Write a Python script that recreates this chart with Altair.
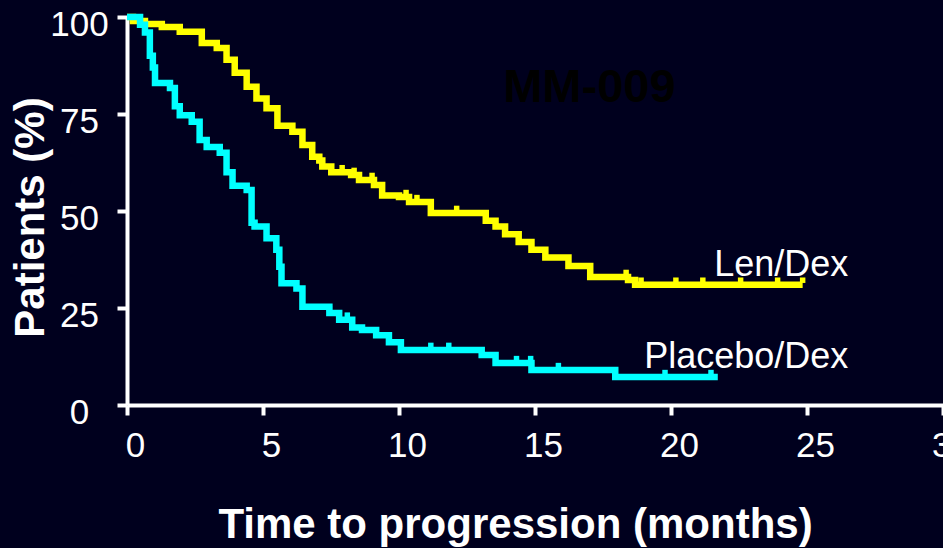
import altair as alt
import pandas as pd

# Kaplan-Meier step data (time in months, % patients progression-free)
len_t = [0, 0.22, 0.66, 1.28, 1.94, 2.75, 3.3, 3.66, 3.96, 4.4, 4.76, 5.13, 5.53, 6.08, 6.45, 6.81,
         7.07, 7.18, 7.51, 8.24, 8.53, 9.08, 9.38, 10.0, 10.37, 11.17, 13.19, 13.55, 13.9, 14.4,
         14.87, 15.38, 16.23, 17.03, 18.42, 18.68, 24.84]
len_s = [100, 99, 98.2, 97.4, 96.2, 93.3, 92, 89, 85.6, 82, 79, 76.5, 72, 70.4, 67, 64,
         63, 61.5, 60, 59.3, 58, 56.7, 54, 53.6, 52.3, 49.5, 47.5, 46, 44, 42,
         40, 38, 35.8, 33, 32.2, 31, 31]

pla_t = [0, 0.48, 0.66, 0.84, 0.95, 1.03, 1.58, 1.76, 1.94, 2.38, 2.67, 2.93, 3.41, 3.66, 3.88,
         4.4, 4.58, 4.69, 5.13, 5.49, 5.6, 5.68, 6.23, 6.45, 7.44, 7.8, 8.28, 8.64, 9.16, 9.63,
         10.07, 13.04, 13.55, 14.87, 17.95, 21.72]
pla_s = [100, 98, 96, 90, 87, 83, 81.7, 77, 74.7, 73, 68.3, 66.5, 65, 60, 56.5,
         55.4, 47, 46, 43, 40, 35.6, 31.4, 30, 25.3, 23.7, 22, 20, 19.3, 18, 16.2,
         14.2, 12.9, 10.8, 9, 7.2, 7.2]

# censoring times
len_c = [7.91, 8.35, 9.01, 10.26, 10.66, 12.12, 13.19, 18.35, 18.9, 20.18, 21.17, 22.56, 23.92, 24.84]
pla_c = [7.44, 8.1, 11.17, 11.83, 14.32, 14.84, 15.86, 19.78, 21.47]

groups = ["Len/Dex", "Placebo/Dex"]
colors = ["#ffff00", "#00ffff"]

# annotations
label_text = ["Len/Dex", "Placebo/Dex"]
label_t = [26.52, 26.52]
label_s = [33.2, 9.6]
title_text = "MM-009"
title_t = 17.0
title_s = 78.0

curves = pd.concat([
    pd.DataFrame({"t": len_t, "s": len_s, "g": groups[0]}),
    pd.DataFrame({"t": pla_t, "s": pla_s, "g": groups[1]}),
])


def censor_frame(times, st, ss, name):
    c = pd.DataFrame({"t": times}).sort_values("t")
    k = pd.DataFrame({"t": st, "s": ss}).sort_values("t")
    m = pd.merge_asof(c, k, on="t", direction="backward")
    m["g"] = name
    return m


censors = pd.concat([
    censor_frame(len_c, len_t, len_s, groups[0]),
    censor_frame(pla_c, pla_t, pla_s, groups[1]),
])

labels = pd.DataFrame({"t": label_t, "s": label_s, "txt": label_text})
title_df = pd.DataFrame({"t": [title_t], "s": [title_s], "txt": [title_text]})

FONT = "Liberation Sans"

x_axis = alt.Axis(
    values=[0, 5, 10, 15, 20, 25, 30], format="d",
    title="Time to progression (months)", titleFont=FONT, titleFontSize=42,
    titleFontWeight="bold", titleColor="white", titleX=388, titleY=132,
    titleBaseline="alphabetic", titleAlign="center",
    labelFont=FONT, labelFontSize=35, labelColor="white", labelOffset=8,
    labelPadding=13, labelFlush=False, labelOverlap=False,
    domainColor="white", domainWidth=4, tickColor="white", tickWidth=4, tickSize=10,
    grid=False,
)
y_axis = alt.Axis(
    values=[0, 25, 50, 75, 100], format="d",
    title="Patients (%)", titleFont=FONT, titleFontSize=42, titleFontWeight="bold",
    titleColor="white", titleX=-97, titleY=200, titleAngle=270,
    titleBaseline="middle", titleAlign="center",
    labelFont=FONT, labelFontSize=35, labelColor="white", labelAlign="center",
    labelBaseline="middle", labelPadding=38, labelOffset=7,
    domainColor="white", domainWidth=4, tickColor="white", tickWidth=4, tickSize=10,
    grid=False,
)

X = alt.X("t:Q", scale=alt.Scale(domain=[0, 30], nice=False), axis=x_axis)
Y = alt.Y("s:Q", scale=alt.Scale(domain=[0, 100], nice=False), axis=y_axis)
C = alt.Color("g:N", scale=alt.Scale(domain=groups, range=colors), legend=None)

lines = alt.Chart(curves).mark_line(interpolate="step-after", strokeWidth=6.5).encode(
    x=X, y=Y, color=C, detail="g:N"
)
ticks = alt.Chart(censors).mark_square(size=30, opacity=1, yOffset=-4.5).encode(
    x=X, y=Y, color=C
)
text = alt.Chart(labels).mark_text(
    font=FONT, fontSize=36, color="white", align="right", baseline="alphabetic"
).encode(x=X, y=Y, text="txt:N")
title = alt.Chart(title_df).mark_text(
    font=FONT, fontSize=47, fontWeight="bold", color="#000000", align="center",
    baseline="alphabetic"
).encode(x=X, y=Y, text="txt:N")

chart = alt.layer(lines, ticks, text, title).properties(
    width=816, height=388,
    autosize=alt.AutoSizeParams(type="none"),
    padding={"left": 127, "top": 17, "right": 0, "bottom": 143},
    background="#00001e",
).configure_view(stroke=None)

chart.save("out.html", embed_options={"renderer": "svg", "actions": False})
